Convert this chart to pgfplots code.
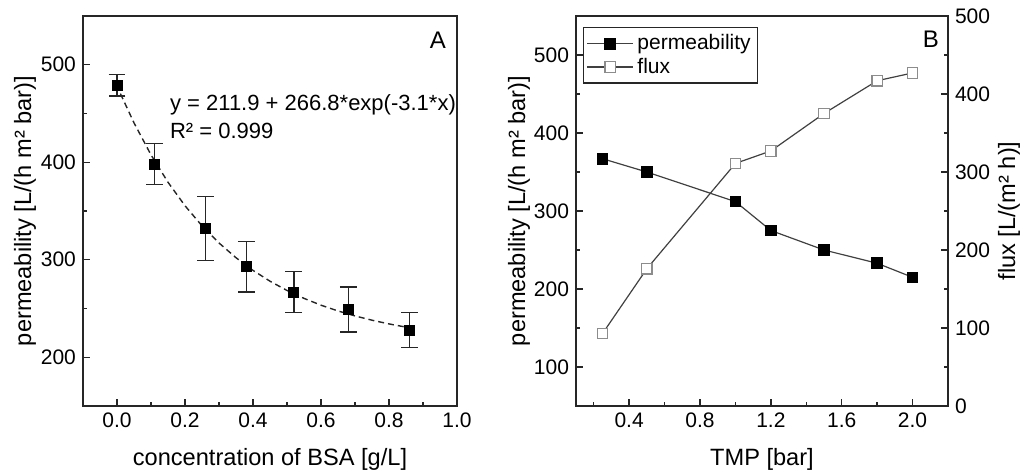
\documentclass[border=0pt]{standalone}
\usepackage{fontspec}
\setmainfont{Liberation Sans}
\usepackage{pgfplots}
\pgfplotsset{compat=1.18}

\begin{document}
\begin{tikzpicture}
\useasboundingbox (0,0) rectangle (512pt,236.5pt);
\pgfplotsset{
  panel/.style={
    scale only axis, height=195pt, anchor=south west,
    axis line style={line width=0.8pt, black!85},
    tick align=inside, tick pos=left,
    major tick length=3.5pt, minor tick length=2pt,
    every tick/.style={black!85, line width=0.7pt},
    tick label style={font=\fontsize{10.5}{12}\selectfont},
    label style={font=\fontsize{11.8}{14}\selectfont},
    /pgf/number format/assume math mode=true,
    xticklabel style={/pgf/number format/.cd, fixed, fixed zerofill, precision=1},
    yticklabel style={/pgf/number format/.cd, fixed, precision=0},
    x label style={at={(axis description cs:0.5,-0.138)}, anchor=center},
    y label style={at={(axis description cs:-0.155,0.5)}, anchor=center},
  },
  dot/.style={only marks, mark=square*, mark size=2.5pt, mark options={fill=black, draw=black}},
}

% panel A
\begin{axis}[panel, at={(41.5pt,33.5pt)}, width=187pt,
  xmin=-0.1, xmax=1.0, ymin=150, ymax=550,
  xtick={0,0.2,0.4,0.6,0.8,1.0}, minor xtick={0.1,0.3,0.5,0.7,0.9},
  ytick={200,300,400,500}, minor ytick={250,350,450},
  xlabel={concentration of BSA [g/L]},
  ylabel={permeability [L/(h m² bar)]},
]
\addplot[black!85, line width=0.7pt, dash pattern=on 3pt off 2pt] coordinates {
  (0.01,470.4) (0.05,440.4) (0.10,407.6) (0.15,379.5) (0.20,355.4) (0.25,334.8)
  (0.30,317.2) (0.35,302.1) (0.40,289.1) (0.45,278.0) (0.50,268.5) (0.55,260.4)
  (0.60,253.4) (0.65,247.5) (0.70,242.4) (0.75,238.0) (0.80,234.2) (0.85,230.9)
};
\addplot[dot, error bars/.cd, y dir=both, y explicit,
  error bar style={line width=0.7pt, black!85},
  error mark options={rotate=90, mark size=4.2pt, line width=0.7pt, black!85}]
  coordinates {
  (0.00,479) +- (0,11)
  (0.11,398) +- (0,21)
  (0.26,332) +- (0,33)
  (0.38,293) +- (0,26)
  (0.52,267) +- (0,21)
  (0.68,249) +- (0,23)
  (0.86,228) +- (0,18)
};
\node[anchor=north west, inner sep=0pt, align=left, font=\fontsize{11}{14}\selectfont]
  at (axis cs:0.155,470) {y = 211.9 + 266.8*exp(-3.1*x),\\R² = 0.999};
\node[font=\fontsize{12}{14}\selectfont] at (rel axis cs:0.949,0.938) {A};
\end{axis}

% panel B, left axis
\begin{axis}[panel, at={(288pt,33.5pt)}, width=186pt,
  xmin=0.1, xmax=2.2, ymin=50, ymax=550,
  xtick={0.4,0.8,1.2,1.6,2.0}, minor xtick={0.2,0.6,1.0,1.4,1.8},
  ytick={100,200,300,400,500}, minor ytick={150,250,350,450},
  xlabel={TMP [bar]},
  ylabel={permeability [L/(h m² bar)]},
  y label style={at={(axis description cs:-0.153,0.5)}},
  legend style={at={(rel axis cs:0.019,0.972)}, anchor=north west,
    draw=black!85, line width=0.7pt, font=\fontsize{10.5}{12}\selectfont,
    inner sep=1.5pt, row sep=-1.5pt},
  legend cell align=left,
  legend image code/.code={\draw[mark repeat=2, mark phase=2] plot coordinates {(0cm,0cm) (0.4cm,0cm) (0.8cm,0cm)};},
]
\addplot[black!75, line width=0.6pt, mark=square*, mark size=2.6pt, mark options={fill=black, draw=black}]
  coordinates {(0.25,367) (0.5,350) (1.0,312) (1.2,275) (1.5,250) (1.8,233) (2.0,215)};
\addlegendentry{permeability}
\addlegendimage{black!75, line width=0.6pt, mark=square*, mark size=2.6pt, mark options={fill=white, draw=black!45}}
\addlegendentry{flux}
\node[font=\fontsize{12}{14}\selectfont] at (rel axis cs:0.954,0.941) {B};
\end{axis}

% panel B, right axis
\begin{axis}[panel, at={(288pt,33.5pt)}, width=186pt,
  xmin=0.1, xmax=2.2, ymin=0, ymax=500,
  axis x line=none, axis y line*=right, ytick pos=right, yticklabel pos=right,
  ytick={0,100,200,300,400,500}, minor ytick={50,150,250,350,450},
  ylabel={flux [L/(m² h)]},
  y label style={at={(axis description cs:1.164,0.5)}},
]
\addplot[black!75, line width=0.6pt, mark=square*, mark size=2.6pt, mark options={fill=white, draw=black!45}]
  coordinates {(0.25,93) (0.5,176) (1.0,311) (1.2,327) (1.5,375) (1.8,417) (2.0,427)};
\end{axis}
\end{tikzpicture}
\end{document}
